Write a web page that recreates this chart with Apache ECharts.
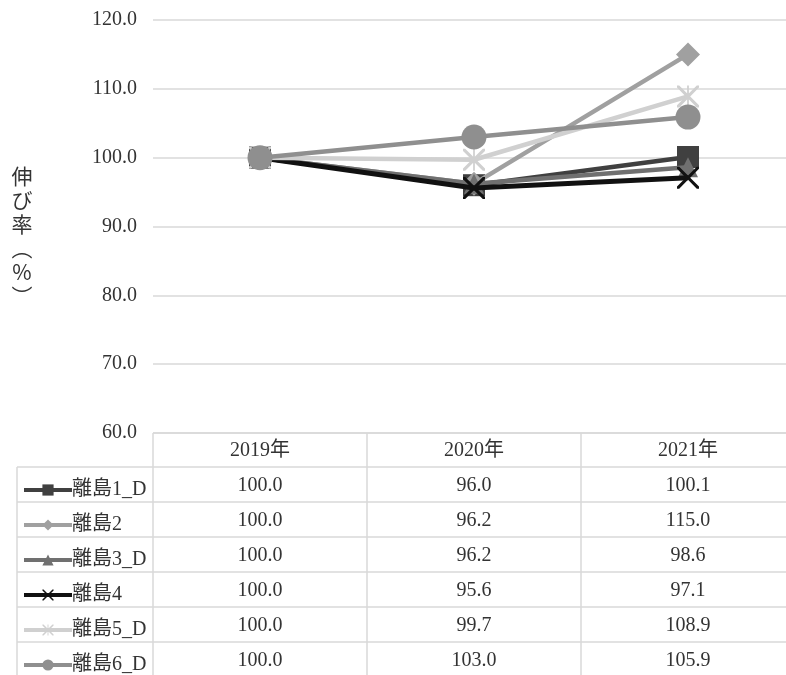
<!DOCTYPE html>
<html>
<head>
<meta charset="utf-8">
<script src="https://cdn.jsdelivr.net/npm/echarts@6/dist/echarts.min.js"></script>
<style>
  html, body { margin: 0; padding: 0; background: #fff; }
  #chart { width: 786px; height: 675px; }
</style>
</head>
<body>
<div id="chart"></div>
<script>
// Growth rate of each island (2019 = 100)
const years = ['2019年', '2020年', '2021年'];
const islandNames = ['離島1_D', '離島2', '離島3_D', '離島4', '離島5_D', '離島6_D'];
const island1 = [100.0, 96.0, 100.1];
const island2 = [100.0, 96.2, 115.0];
const island3 = [100.0, 96.2, 98.6];
const island4 = [100.0, 95.6, 97.1];
const island5 = [100.0, 99.7, 108.9];
const island6 = [100.0, 103.0, 105.9];
const yTicks = [60, 70, 80, 90, 100, 110, 120];
const yTitle = '伸\nび\n率\n︵\n%\n︶';

const seriesValues = [island1, island2, island3, island4, island5, island6];
const colors = ['#404040', '#a0a0a0', '#707070', '#111111', '#d0d0d0', '#8f8f8f'];

// Custom marker shapes: a cross and an asterisk
const crossPath = 'path://M0,0 L2,0 L10,8 L18,0 L20,0 L20,2 L12,10 L20,18 L20,20 L18,20 L10,12 L2,20 L0,20 L0,18 L8,10 L0,2 Z';
const starPath = 'path://M0,0 L2,0 L10,8 L18,0 L20,0 L20,2 L12,10 L20,18 L20,20 L18,20 L10,12 L2,20 L0,20 L0,18 L8,10 L0,2 Z M9.2,0 L10.8,0 L10.8,20 L9.2,20 Z';
const symbols = ['rect', 'diamond', 'triangle', crossPath, starPath, 'circle'];
const symbolSizes = [22, 24, 20, 22, 22, 25];
const lineWidths = [4.5, 4.5, 4.5, 5, 4.5, 4.5];

const FONT = "'Liberation Serif', 'Noto Sans CJK JP', serif";
const TEXT_COLOR = '#333';
const GRID_COLOR = '#d9d9d9';

const chart = echarts.init(document.getElementById('chart'), null, { renderer: 'canvas' });

const GRID_LEFT = 153, GRID_TOP = 20, GRID_BOTTOM_Y = 433;

chart.setOption({
  animation: false,
  backgroundColor: '#fff',
  grid: {
    left: GRID_LEFT, width: 642, top: GRID_TOP, height: GRID_BOTTOM_Y - GRID_TOP,
    outerBoundsMode: 'none', containLabel: false
  },
  legend: {
    orient: 'vertical',
    left: 17,
    top: 474,
    height: 220,
    itemWidth: 48,
    itemHeight: 14,
    itemGap: 13,
    data: islandNames.map(n => ({ name: n, lineStyle: { width: 4 } })),
    textStyle: { fontFamily: FONT, fontSize: 20, color: TEXT_COLOR, lineHeight: 22, padding: [0, 0, 0, -5] }
  },
  xAxis: {
    type: 'category',
    data: years,
    boundaryGap: true,
    axisLine: { show: false },
    axisTick: { show: false },
    axisLabel: { show: false }
  },
  yAxis: {
    type: 'value',
    min: yTicks[0],
    max: yTicks[yTicks.length - 1],
    interval: 10,
    axisLine: { show: false },
    axisTick: { show: false },
    axisLabel: {
      margin: 16,
      fontFamily: FONT,
      fontSize: 20,
      color: TEXT_COLOR,
      formatter: v => v.toFixed(1)
    },
    splitLine: { lineStyle: { color: GRID_COLOR, width: 1.5 } }
  },
  series: seriesValues.map((vals, i) => ({
    name: islandNames[i],
    type: 'line',
    data: vals,
    symbol: symbols[i],
    symbolSize: symbolSizes[i],
    z: 2 + i,
    itemStyle: { color: colors[i] },
    lineStyle: { color: colors[i], width: lineWidths[i] }
  }))
});

// Vertical axis title and the data table underneath the plot
function drawExtras() {
  const centers = years.map((_, i) => chart.convertToPixel({ xAxisIndex: 0 }, i));
  const band = centers.length > 1 ? centers[1] - centers[0] : 200;
  const top = chart.convertToPixel({ yAxisIndex: 0 }, yTicks[0]);
  const headerH = 34, rowH = 35, tableLeft = 17, right = 786;
  const rowTop = top + headerH;
  const bottom = rowTop + rowH * islandNames.length + 2;
  const lineStyle = { stroke: GRID_COLOR, lineWidth: 1.5 };
  const els = [];

  els.push({
    type: 'text', silent: true,
    style: { text: yTitle, x: 22, y: 164, align: 'center', verticalAlign: 'top', lineHeight: 24,
             font: "21px 'Noto Sans CJK JP', sans-serif", fill: TEXT_COLOR }
  });

  els.push({ type: 'line', shape: { x1: centers[0] - band / 2, y1: top, x2: right, y2: top }, style: lineStyle, silent: true });
  for (let r = 0; r <= islandNames.length; r++) {
    const y = rowTop + r * rowH;
    els.push({ type: 'line', shape: { x1: tableLeft, y1: y, x2: right, y2: y }, style: lineStyle, silent: true });
  }
  els.push({ type: 'line', shape: { x1: tableLeft, y1: rowTop, x2: tableLeft, y2: bottom }, style: lineStyle, silent: true });
  for (let c = 0; c < centers.length; c++) {
    const x = centers[c] - band / 2;
    els.push({ type: 'line', shape: { x1: x, y1: top, x2: x, y2: bottom }, style: lineStyle, silent: true });
  }

  years.forEach((yr, c) => {
    els.push({
      type: 'text', silent: true,
      style: { text: yr, x: centers[c], y: top + headerH / 2 + 1, align: 'center', verticalAlign: 'middle',
               font: '20px ' + FONT, fill: TEXT_COLOR }
    });
  });
  seriesValues.forEach((vals, r) => {
    vals.forEach((v, c) => {
      els.push({
        type: 'text', silent: true,
        style: { text: v.toFixed(1), x: centers[c], y: rowTop + r * rowH + rowH / 2 + 1, align: 'center', verticalAlign: 'middle',
                 font: '20px ' + FONT, fill: TEXT_COLOR }
      });
    });
  });
  chart.setOption({ graphic: els });
}
drawExtras();
</script>
</body>
</html>
